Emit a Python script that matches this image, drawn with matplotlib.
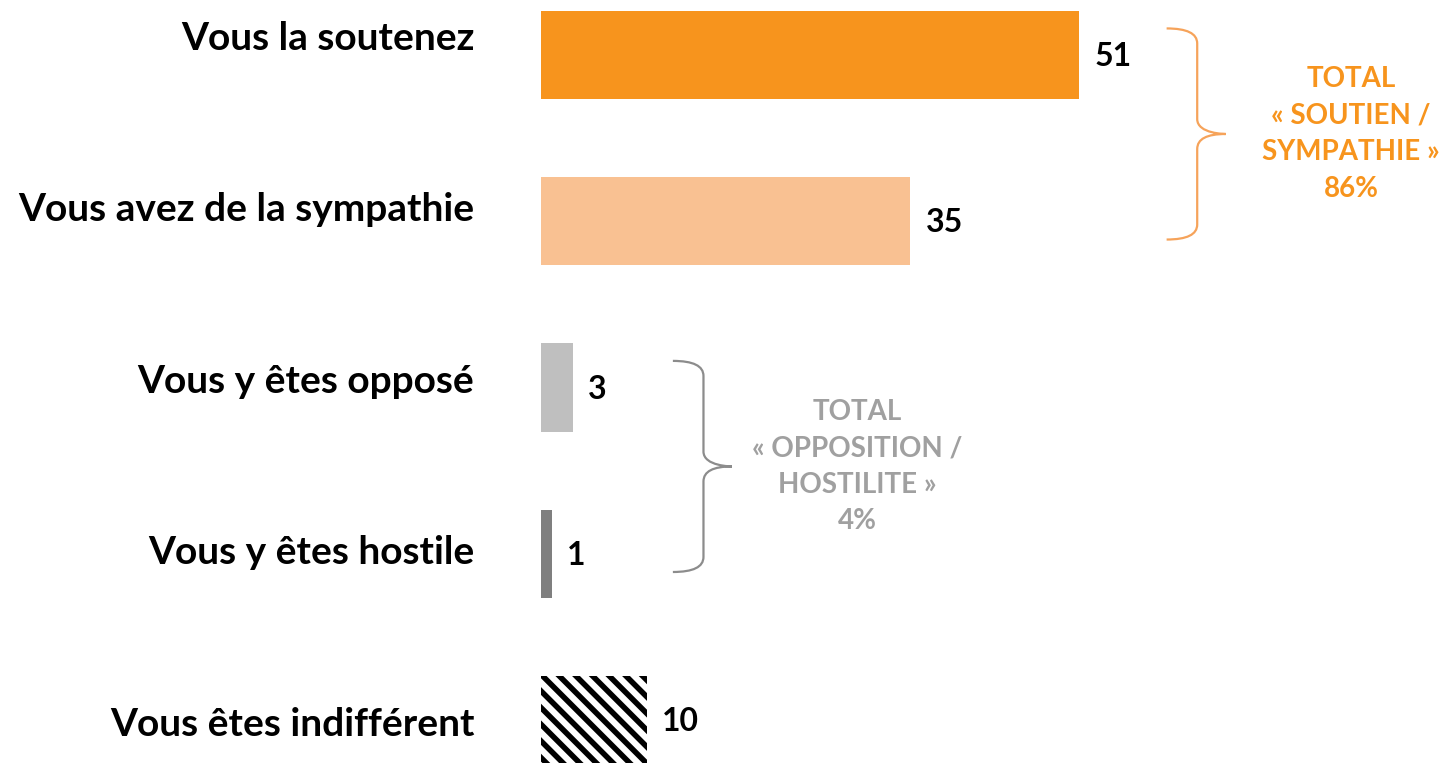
import matplotlib
matplotlib.use("Agg")
import matplotlib.pyplot as plt
from matplotlib.path import Path
from matplotlib.patches import PathPatch

# data
categories = ["Vous la soutenez", "Vous avez de la sympathie", "Vous y êtes opposé",
              "Vous y êtes hostile", "Vous êtes indifférent"]
values = [51, 35, 3, 1, 10]
colors = ["#F7941D", "#F9C192", "#BFBFBF", "#7F7F7F", "white"]
hatches = [None, None, None, None, "\\\\"]

# groups shown with a curly brace: (first index, last index, text, text colour, brace colour, gap)
groups = [
    (0, 1, "TOTAL\n« SOUTIEN /\nSYMPATHIE »\n86%", "#F7941D", "#F6A35A", 8.3),
    (2, 3, "TOTAL\n« OPPOSITION /\nHOSTILITE »\n4%", "#A0A0A0", "#8C8C8C", 9.5),
]

plt.rcParams['font.family'] = ['Lato', 'DejaVu Sans']
plt.rcParams['hatch.linewidth'] = 4.0

fig = plt.figure(figsize=(14.43, 7.63), dpi=100)
ax = fig.add_axes([541 / 1443, 0, 902 / 1443, 1])
ax.set_xlim(0, 902 / 10.55)
ax.set_ylim(4.259, -0.331)
ax.axis('off')

ypos = list(range(len(categories)))
for y, v, c, h in zip(ypos, values, colors, hatches):
    ax.barh(y, v, height=0.53, color=c, hatch=h,
            edgecolor='black' if h else 'none', linewidth=0)
    ax.annotate(str(v), (v, y + 0.01), xytext=(11, 0), textcoords='offset points',
                ha='left', va='center', fontsize=23, fontweight='bold', color='black')

# category labels, right aligned to the left of the bars
for y, label in zip(ypos, categories):
    ax.annotate(label, (0, y * 1.0316 - 0.102), xytext=(-48, 0), textcoords='offset points',
                ha='right', va='center', fontsize=28, fontweight='bold', color='black',
                annotation_clip=False)


def draw_brace(ax, x0, ytop, ybot, color, arm=2.9, tip=2.7, r=0.09):
    ymid = (ytop + ybot) / 2
    x1 = x0 + arm
    x2 = x1 + tip
    verts = [
        (x0, ytop), (x1, ytop), (x1, ytop + r),
        (x1, ymid - r),
        (x1, ymid), (x2, ymid), (x2, ymid),
        (x1, ymid), (x1, ymid + r),
        (x1, ybot - r),
        (x1, ybot), (x0, ybot),
    ]
    codes = [Path.MOVETO, Path.CURVE3, Path.CURVE3,
             Path.LINETO,
             Path.CURVE4, Path.CURVE4, Path.CURVE4,
             Path.CURVE3, Path.CURVE3,
             Path.LINETO,
             Path.CURVE3, Path.CURVE3]
    ax.add_patch(PathPatch(Path(verts, codes), facecolor='none', edgecolor=color,
                           linewidth=1.6, clip_on=False))
    return x2, ymid


for first, last, text, tcolor, bcolor, gap in groups:
    top_val = max(values[first:last + 1])
    tip_x, ymid = draw_brace(ax, top_val + gap, first - 0.16, last + 0.11, bcolor)
    ax.text(tip_x + 11.9, ymid, text, ha='center', va='center', fontsize=20,
            fontweight='bold', color=tcolor, linespacing=1.5)

fig.savefig("out.png", dpi=100)
